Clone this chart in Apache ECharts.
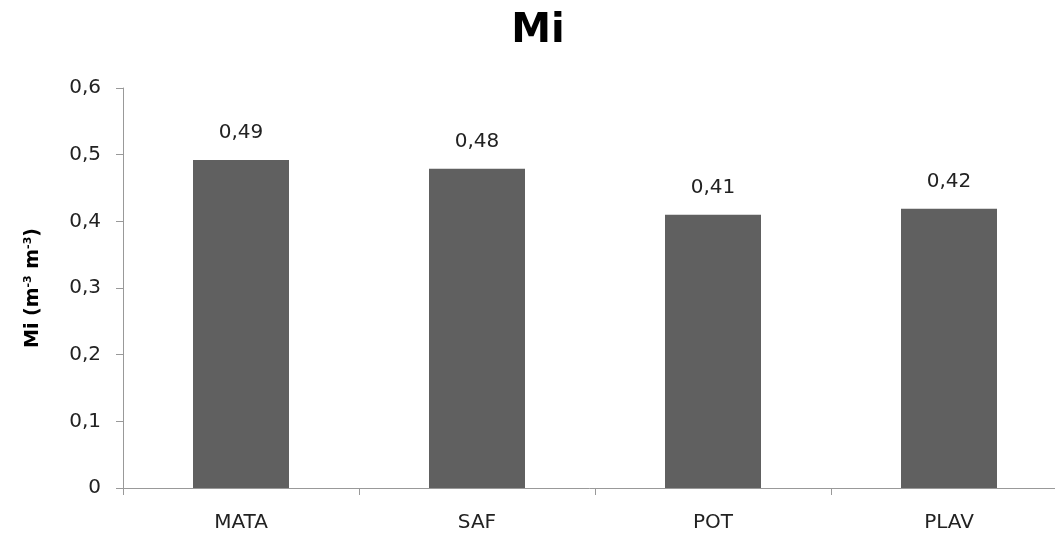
<!DOCTYPE html>
<html>
<head>
<meta charset="utf-8">
<script src="https://cdn.jsdelivr.net/npm/echarts@6/dist/echarts.min.js"></script>
<style>html,body{margin:0;padding:0;background:#fff}#c{width:1055px;height:533px}</style>
</head>
<body>
<div id="c"></div>
<script>
const categories = ['MATA', 'SAF', 'POT', 'PLAV'];
const values = [0.492, 0.479, 0.41, 0.419];
const yTicks = [0, 0.1, 0.2, 0.3, 0.4, 0.5, 0.6];

const chart = echarts.init(document.getElementById('c'), null, {renderer: 'canvas'});
const font = '"DejaVu Sans", "Open Sans", sans-serif';
chart.setOption({
  animation: false,
  title: {
    text: 'Mi', left: 533, top: 7, textAlign: 'center',
    textStyle: {fontFamily: font, fontWeight: 'bold', fontSize: 40, color: '#000'}
  },
  grid: {left: 123, top: 88, width: 944, height: 400, outerBoundsMode: 'none', containLabel: false},
  xAxis: {
    type: 'category', data: categories,
    axisLine: {lineStyle: {color: '#999', width: 1}},
    axisTick: {show: true, length: 7, lineStyle: {color: '#999'}},
    axisLabel: {fontFamily: font, fontSize: 20, color: '#222', margin: 25}
  },
  yAxis: {
    type: 'value', min: yTicks[0], max: yTicks[yTicks.length - 1], interval: 0.1,
    name: '{b|Mi (m}{s|-3}{b| m}{s|-3}{b|)}',
    nameLocation: 'middle', nameGap: 79, nameRotate: 90,
    nameTextStyle: {
      rich: {
        b: {fontFamily: font, fontWeight: 'bold', fontSize: 19, color: '#000'},
        s: {fontFamily: font, fontWeight: 'bold', fontSize: 11, color: '#000', padding: [0, 0, 10, 0]}
      }
    },
    splitLine: {show: false},
    axisLine: {show: true, lineStyle: {color: '#999'}},
    axisTick: {show: true, length: 7, lineStyle: {color: '#999'}},
    axisLabel: {
      fontFamily: font, fontSize: 20, color: '#222', margin: 22,
      formatter: v => v === 0 ? '0' : v.toFixed(1).replace('.', ',')
    }
  },
  series: [{
    type: 'bar', data: values, barWidth: 96,
    itemStyle: {color: '#606060'},
    label: {
      show: true, position: 'top', distance: 17,
      fontFamily: font, fontSize: 20, color: '#222',
      formatter: p => p.value.toFixed(2).replace('.', ',')
    }
  }]
});
</script>
</body>
</html>
